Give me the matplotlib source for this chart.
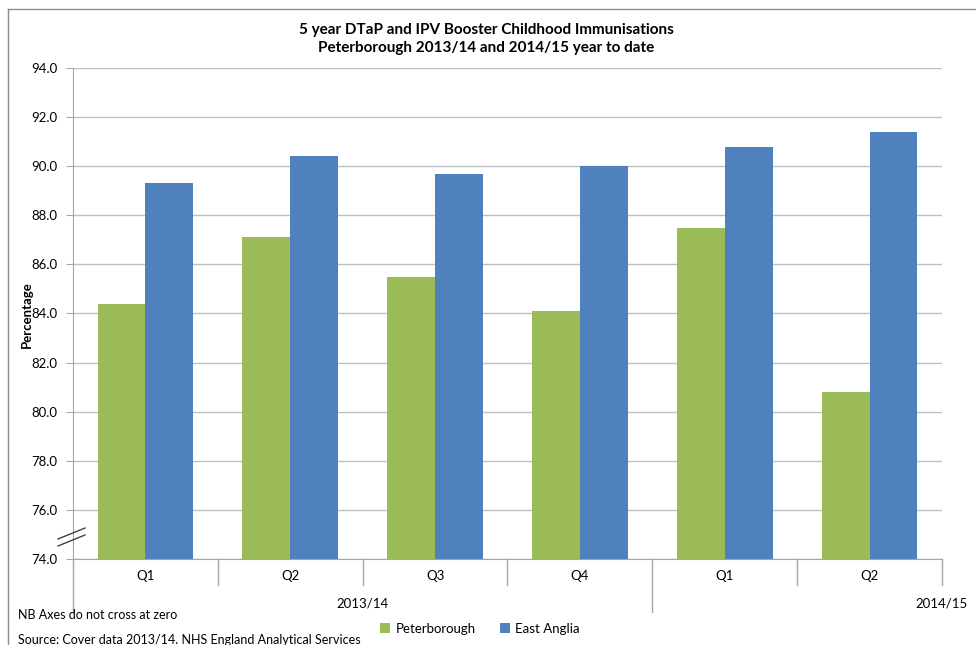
import numpy as np
import matplotlib
matplotlib.use('Agg')
import matplotlib.pyplot as plt
from matplotlib.lines import Line2D

plt.rcParams['font.family'] = ['Lato', 'DejaVu Sans']

# data
quarters = ['Q1', 'Q2', 'Q3', 'Q4', 'Q1', 'Q2']
years = ['2013/14', '2014/15']
peterborough = [84.4, 87.1, 85.5, 84.1, 87.5, 80.8]
east_anglia = [89.3, 90.4, 89.7, 90.0, 90.8, 91.4]
yticks = np.arange(74, 95, 2)

green = '#9BBB59'
blue = '#4F81BD'
grid_c = '#BFBFBF'
axis_c = '#A6A6A6'

W, H = 976, 645
fig = plt.figure(figsize=(W / 100, H / 100), dpi=100)

# plot area in pixels
left, right, top, bottom = 73, 942, 68, 559
ax = fig.add_axes([left / W, 1 - bottom / H, (right - left) / W, (bottom - top) / H])

x = np.arange(len(quarters))
bw = 0.33
ax.bar(x - bw, peterborough, width=bw, align='edge', color=green, label='Peterborough', zorder=3)
ax.bar(x, east_anglia, width=bw, align='edge', color=blue, label='East Anglia', zorder=3)

ax.set_xlim(-0.5, len(quarters) - 0.5)
ax.set_ylim(74, 94)
ax.set_yticks(yticks)
ax.set_yticklabels(['%.1f' % v for v in yticks], fontsize=9.5)
ax.tick_params(axis='y', length=5, color=axis_c, pad=6)
ax.set_xticks([])
ax.grid(axis='y', color=grid_c, linewidth=1, zorder=0)
for s in ['top', 'right']:
    ax.spines[s].set_visible(False)
for s in ['left', 'bottom']:
    ax.spines[s].set_color(axis_c)

fig.text(27 / W, 1 - 315 / H, 'Percentage', rotation=90, ha='center', va='center',
         fontsize=9.5, fontweight='bold')

# multi-level category axis below the plot
ph = bottom - top
tr = ax.get_xaxis_transform()
short = -26 / ph
long_ = -53 / ph
bounds = np.arange(len(quarters) + 1) - 0.5
for i, b in enumerate(bounds):
    yend = long_ if i in (0, 4) else short
    ax.add_line(Line2D([b, b], [0, yend], transform=tr, color=axis_c, lw=1, clip_on=False))
for xi, q in zip(x, quarters):
    ax.text(xi, -17 / ph, q, transform=tr, ha='center', va='center', fontsize=9.5)
ax.text(1.5, -44 / ph, years[0], transform=tr, ha='center', va='center', fontsize=9.5)
ax.text(5.5, -44 / ph, years[1], transform=tr, ha='center', va='center', fontsize=9.5)

# axis break marks
for dy in (0, 7):
    fig.add_artist(Line2D([58 / W, 85 / W], [1 - (539 + dy) / H, 1 - (528 + dy) / H],
                          color='#404040', lw=1))

# chart frame
fig.add_artist(Line2D([8 / W, 8 / W], [0, 1 - 9 / H], color='#8C8C8C', lw=1))
fig.add_artist(Line2D([8 / W, 1], [1 - 9 / H, 1 - 9 / H], color='#8C8C8C', lw=1))

fig.text(486 / W, 1 - 39 / H, '5 year DTaP and IPV Booster Childhood Immunisations\n'
         'Peterborough 2013/14 and 2014/15 year to date',
         ha='center', va='center', fontsize=11, fontweight='bold', linespacing=1.3)

fig.legend(loc='center', bbox_to_anchor=(480 / W, 1 - 629 / H), ncol=2, frameon=False,
           fontsize=9.5, handlelength=0.8, handleheight=0.8, handletextpad=0.4,
           columnspacing=1.8)

fig.text(18 / W, 1 - 615 / H, 'NB Axes do not cross at zero', fontsize=9, va='center')
fig.text(18 / W, 1 - 640 / H, 'Source: Cover data 2013/14. NHS England Analytical Services',
         fontsize=9, va='center')

fig.savefig('out.png', dpi=100)
